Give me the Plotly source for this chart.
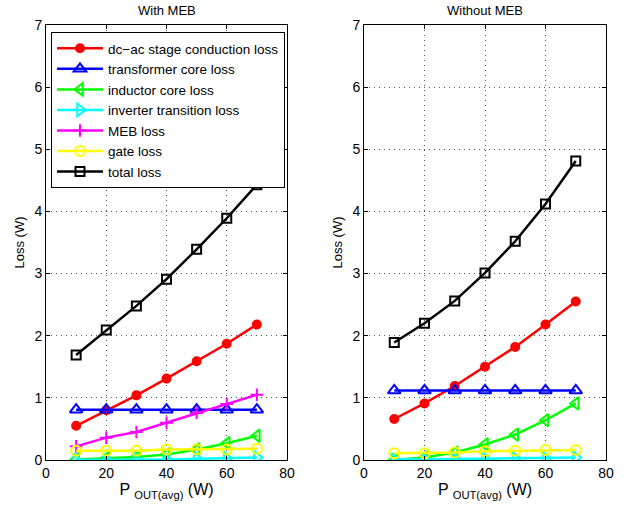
import plotly.graph_objects as go

x = [10, 20, 30, 40, 50, 60, 70]

# With MEB
w_dcac = [0.55, 0.80, 1.04, 1.31, 1.59, 1.87, 2.18]
w_trans = [0.81, 0.81, 0.81, 0.81, 0.81, 0.81, 0.81]
w_ind = [0.01, 0.03, 0.05, 0.09, 0.17, 0.27, 0.39]
w_inv = [0.00, 0.00, 0.01, 0.01, 0.02, 0.03, 0.04]
w_meb = [0.22, 0.36, 0.45, 0.60, 0.76, 0.90, 1.05]
w_gate = [0.15, 0.15, 0.15, 0.17, 0.17, 0.17, 0.18]
w_total = [1.69, 2.09, 2.48, 2.91, 3.39, 3.89, 4.43]

# Without MEB
n_dcac = [0.66, 0.91, 1.19, 1.50, 1.82, 2.18, 2.55]
n_trans = [1.12, 1.12, 1.12, 1.12, 1.12, 1.12, 1.12]
n_ind = [0.00, 0.04, 0.12, 0.25, 0.41, 0.64, 0.91]
n_inv = [0.01, 0.01, 0.02, 0.02, 0.03, 0.03, 0.04]
n_gate = [0.11, 0.11, 0.12, 0.14, 0.15, 0.16, 0.16]
n_total = [1.89, 2.20, 2.56, 3.01, 3.52, 4.12, 4.81]

names = ["dc\u2212ac stage conduction loss", "transformer core loss", "inductor core loss",
         "inverter transition loss", "MEB loss", "gate loss", "total loss"]
colors = ["#ff0000", "#0000ff", "#00ff00", "#00ffff", "#ff00ff", "#ffff00", "#000000"]
symbols = ["circle", "triangle-up-open", "triangle-left-open", "triangle-right-open",
           "cross-thin-open", "circle-open", "square-open"]
sizes = [8, 11, 11, 11, 9, 10, 9]

fig = go.Figure()

def add(series, xa, ya, show):
    for i, s in enumerate(series):
        if s is None:
            continue
        fig.add_trace(go.Scatter(
            x=x, y=s, name=names[i], mode="lines+markers",
            line=dict(color=colors[i], width=2.5),
            marker=dict(symbol=symbols[i], size=sizes[i], color=colors[i],
                        line=dict(color=colors[i], width=2)),
            xaxis=xa, yaxis=ya, showlegend=show))

add([w_dcac, w_trans, w_ind, w_inv, w_meb, w_gate, w_total], "x", "y", True)
add([n_dcac, n_trans, n_ind, n_inv, None, n_gate, n_total], "x2", "y2", False)

FAM = "Liberation Sans, Arial"
axfont = dict(family=FAM, size=14, color="black")
common_x = dict(range=[0, 80], dtick=20, showgrid=True, gridcolor="#555555", griddash="1px,4px",
                gridwidth=1, zeroline=False, showline=True, linecolor="black", linewidth=1,
                mirror="ticks", ticks="inside", ticklen=4, tickcolor="black", tickfont=axfont,
                automargin=False,
                title=dict(text="P <sub>OUT(avg)</sub> (W)", font=dict(family=FAM, size=16, color="black"), standoff=4))
common_y = dict(range=[0, 7], dtick=1, showgrid=True, gridcolor="#555555", griddash="1px,4px",
                gridwidth=1, zeroline=False, showline=True, linecolor="black", linewidth=1,
                mirror="ticks", ticks="inside", ticklen=4, tickcolor="black", tickfont=axfont,
                automargin=False,
                title=dict(text="Loss (W)", font=dict(family=FAM, size=13, color="black"), standoff=6))

y0, y1 = 1 - 460 / 506, 1 - 25 / 506
fig.update_layout(
    width=629, height=506, margin=dict(l=0, r=0, t=0, b=0, autoexpand=False),
    paper_bgcolor="white", plot_bgcolor="white",
    font=dict(family=FAM, color="black"),
    xaxis=dict(domain=[46 / 629, 287 / 629], anchor="y", **common_x),
    yaxis=dict(domain=[y0, y1], anchor="x", **common_y),
    xaxis2=dict(domain=[364 / 629, 606 / 629], anchor="y2", **common_x),
    yaxis2=dict(domain=[y0, y1], anchor="x2", **common_y),
    legend=dict(x=51 / 629, y=1 - 32 / 506, xanchor="left", yanchor="top",
                bgcolor="white", bordercolor="black", borderwidth=1,
                font=dict(family=FAM, size=13.5, color="black"),
                tracegroupgap=0, itemwidth=46),
    annotations=[
        dict(text="With MEB", x=(46 + 287) / 2 / 629, y=1 - 11 / 506, xref="paper", yref="paper",
             xanchor="center", yanchor="middle",
             showarrow=False, font=dict(size=13, family=FAM)),
        dict(text="Without MEB", x=(364 + 606) / 2 / 629, y=1 - 11 / 506, xref="paper", yref="paper",
             xanchor="center", yanchor="middle",
             showarrow=False, font=dict(size=13, family=FAM)),
    ],
)

fig.write_html("out.html")
